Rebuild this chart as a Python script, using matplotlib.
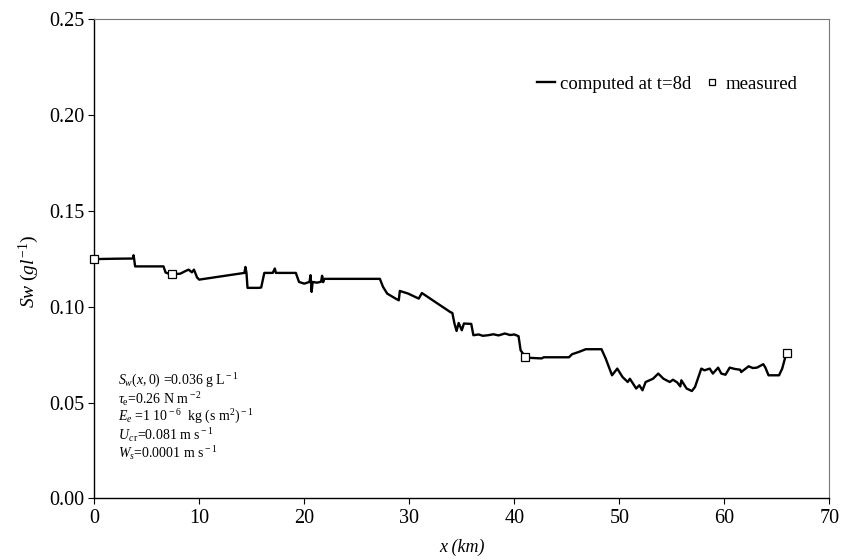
import matplotlib
matplotlib.use("Agg")
import matplotlib.pyplot as plt

plt.rcParams['font.family'] = ['Liberation Serif', 'DejaVu Serif']
plt.rcParams['mathtext.fontset'] = 'custom'
plt.rcParams['mathtext.rm'] = 'Liberation Serif'
plt.rcParams['mathtext.it'] = 'Liberation Serif:italic'

# computed salinity at t=8d
x_comp = [0.0, 2.0, 3.7, 3.75, 3.8, 3.9, 6.6, 6.8, 7.3, 8.2, 8.7, 9.0, 9.3, 9.5, 9.8, 10.0,
          14.3, 14.4, 14.5, 14.6, 15.7, 15.9, 16.2, 17.0, 17.2, 17.3, 19.2, 19.5, 20.0, 20.5,
          20.6, 20.7, 20.8, 21.2, 21.6, 21.7, 21.8, 21.9, 27.2, 27.5, 27.9, 28.7, 29.0, 29.1,
          29.9, 30.9, 31.2, 33.9, 34.1, 34.3, 34.5, 34.7, 35.0, 35.2, 35.9, 36.1, 36.6, 37.0,
          37.5, 38.0, 38.5, 39.1, 39.6, 40.0, 40.4, 40.6, 41.1, 42.6, 42.8, 45.2, 45.5, 46.2,
          46.8, 48.3, 48.7, 49.3, 49.8, 50.3, 50.8, 51.0, 51.6, 51.9, 52.2, 52.5, 53.2, 53.7,
          54.2, 54.8, 55.1, 55.5, 55.8, 55.9, 56.4, 56.9, 57.2, 57.8, 58.1, 58.6, 58.9, 59.4,
          59.7, 60.1, 60.5, 61.0, 61.5, 61.6, 62.3, 62.7, 63.1, 63.7, 63.9, 64.2, 65.2, 65.5,
          65.8, 66.0]
y_comp = [0.1248, 0.1250, 0.1251, 0.1268, 0.1251, 0.1210, 0.1210, 0.1178, 0.1168, 0.1172,
          0.1186, 0.1193, 0.1179, 0.1193, 0.1152, 0.1141, 0.1176, 0.1207, 0.1176, 0.1098,
          0.1098, 0.1100, 0.1176, 0.1176, 0.1199, 0.1176, 0.1176, 0.1129, 0.1120, 0.1129,
          0.1164, 0.1077, 0.1129, 0.1125, 0.1130, 0.1161, 0.1128, 0.1145, 0.1145, 0.1103,
          0.1068, 0.1042, 0.1033, 0.1082, 0.1068, 0.1042, 0.1071, 0.0972, 0.0967, 0.0912,
          0.0873, 0.0915, 0.0877, 0.0912, 0.0910, 0.0851, 0.0855, 0.0848, 0.0851, 0.0856,
          0.0850, 0.0860, 0.0852, 0.0855, 0.0846, 0.0772, 0.0734, 0.0730, 0.0736, 0.0736,
          0.0752, 0.0765, 0.0778, 0.0778, 0.0729, 0.0642, 0.0677, 0.0633, 0.0607, 0.0624,
          0.0573, 0.0590, 0.0564, 0.0607, 0.0624, 0.0651, 0.0624, 0.0607, 0.0619, 0.0605,
          0.0584, 0.0616, 0.0573, 0.0560, 0.0581, 0.0677, 0.0668, 0.0677, 0.0651, 0.0682,
          0.0651, 0.0645, 0.0682, 0.0675, 0.0671, 0.0659, 0.0689, 0.0680, 0.0682, 0.0700,
          0.0682, 0.0642, 0.0642, 0.0677, 0.0738, 0.0759]

# measured values
x_meas = [0.0, 7.4, 41.0, 66.0]
y_meas = [0.125, 0.117, 0.074, 0.076]

params = [r'$S_w$$(x,0)$ =0.036 g L$^{\rm -1}$',
          r'$\tau_{\rm e}$=0.26 N m$^{\rm -2}$',
          r'$E_e$ =1 10$^{\rm -6}$  kg (s m$^{\rm 2}$)$^{\rm -1}$',
          r'$U_{c\,{\rm r}}$=0.081 m s$^{\rm -1}$',
          r'$W_s$=0.0001 m s$^{\rm -1}$']

fig = plt.figure(figsize=(8.56, 5.6), dpi=100)
ax = fig.add_axes([0.110, 0.110, 0.859, 0.856])

ax.plot(x_comp, y_comp, color='black', lw=1.7, label='computed at t=8d', zorder=2)
ax.plot(x_meas, y_meas, ls='none', marker='s', ms=6, mfc='white', mec='black',
        mew=0.9, label='measured', zorder=3, clip_on=False)

ax.set_xlim(0, 70)
ax.set_ylim(0, 0.25)
ax.set_xticks(range(0, 71, 10))
ax.set_yticks([0, 0.05, 0.10, 0.15, 0.20, 0.25])
ax.set_yticklabels(['0.00', '0.05', '0.10', '0.15', '0.20', '0.25'])
ax.tick_params(labelsize=14.5, direction='out', length=4.3, width=0.8, pad=3,
               top=False, right=False)
for s in ['top', 'right']:
    ax.spines[s].set_color('#777777')
    ax.spines[s].set_linewidth(0.8)
for s in ['left', 'bottom']:
    ax.spines[s].set_linewidth(1.0)

ax.set_xlabel('x (km)', fontsize=13, style='italic', labelpad=8)
ax.set_ylabel(r'$Sw\ (gl^{-1})$', fontsize=14)
ax.yaxis.set_label_coords(-0.072, 0.474)

ax.legend(loc='center right', bbox_to_anchor=(0.957, 0.864), ncol=2, frameon=False,
          fontsize=13.5, handlelength=1.0, handletextpad=0.25, columnspacing=0.6,
          borderpad=0, borderaxespad=0, markerscale=0.75)

for i, t in enumerate(params):
    ax.text(2.3, 0.0615 - i * 0.0094, t, fontsize=10, va='center', ha='left')

fig.savefig('out.png', dpi=100)
